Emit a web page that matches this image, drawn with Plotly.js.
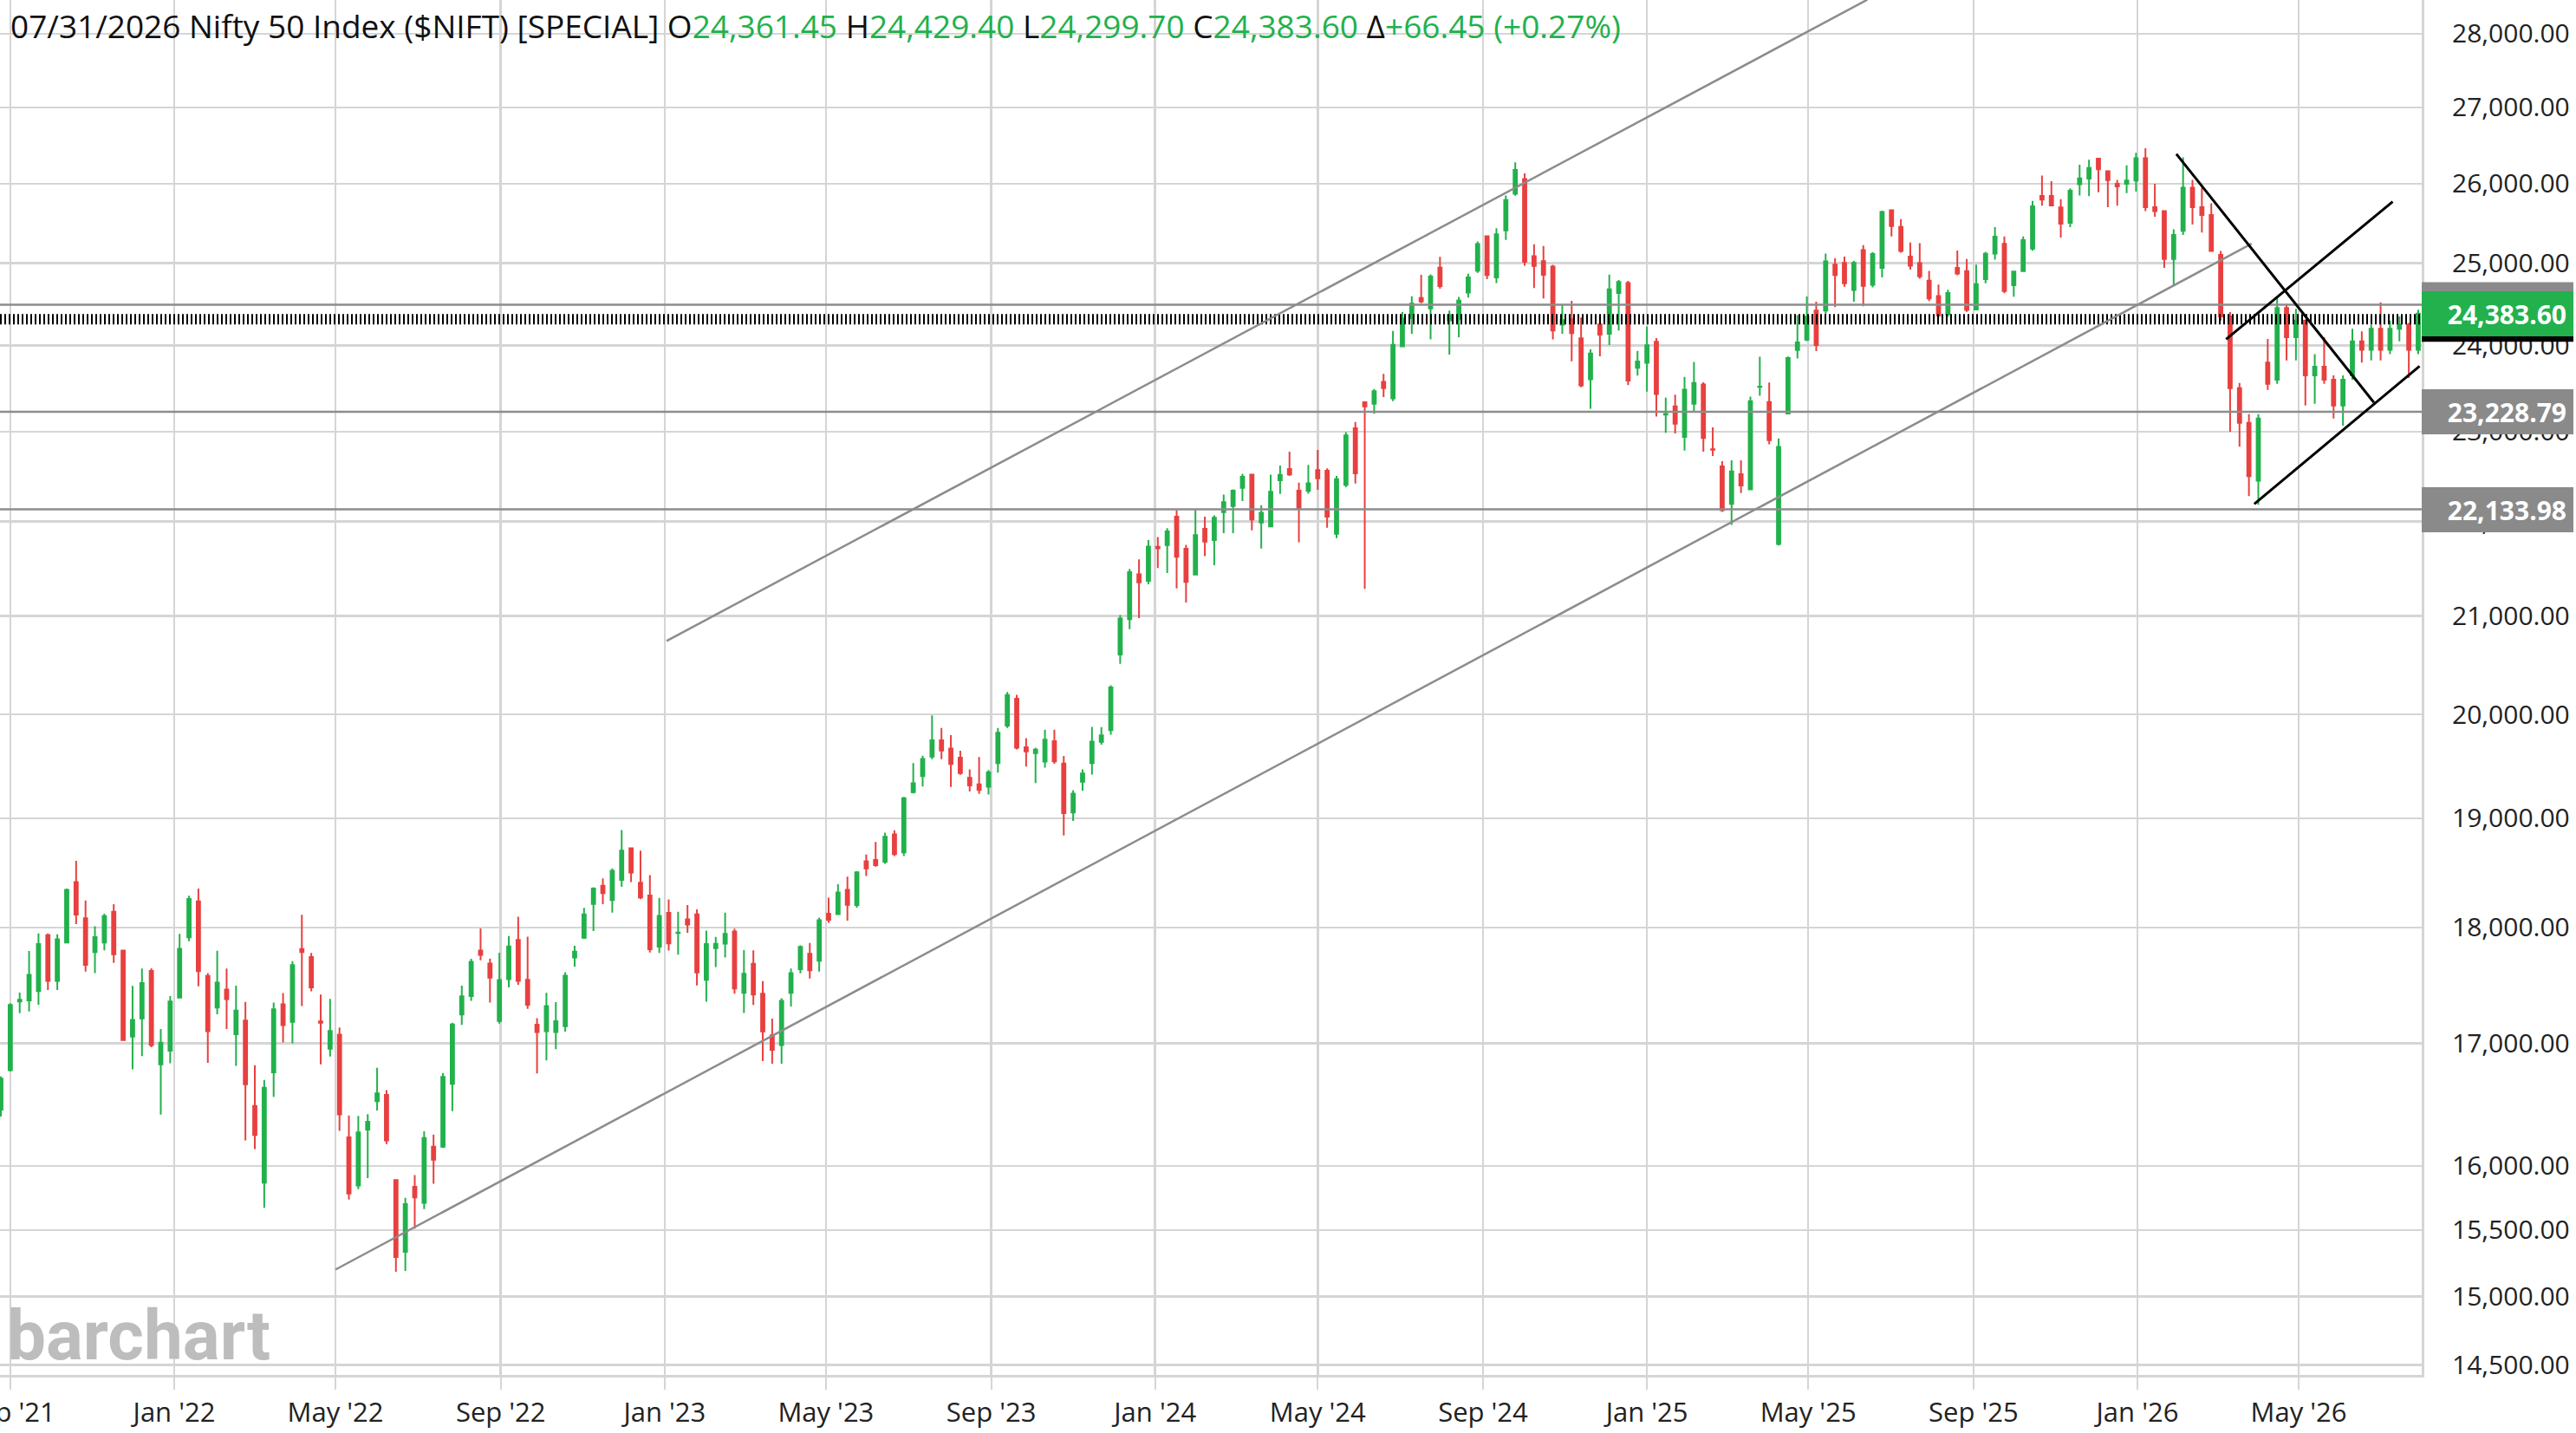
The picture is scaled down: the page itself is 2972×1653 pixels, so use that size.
<!DOCTYPE html>
<html><head><meta charset="utf-8">
<script src="https://cdn.plot.ly/plotly-3.0.1.min.js"></script>
<style>html,body{margin:0;padding:0;background:#fff;}#chart{width:2972px;height:1653px;}</style>
</head><body><div id="chart"></div>
<script>
// Weekly candles (each week centred on its Wednesday), first week starts here
const firstWeek = '2021-08-25';

const open = [
16450,16775,17354,17364,17443,17932,17532,17867,18410,18083,17783,17867,18141,17796,17055,17210,17619,16824,16937,
17387,17913,18235,17575,17302,17456,17076,17192,16481,15867,16757,17329,17181,17810,17740,17183,16954,17071,16227,15845,
16290,16520,16570,15887,15334,15835,15710,16152,16152,16662,17243,17401,17797,17682,17188,17546,17890,17540,17157,17102,
17094,17144,17736,17910,18211,18376,18246,18430,18719,18403,18288,17831,
18131,17952,18074,18118,17541,17818,17858,17965,17428,17681,17421,17066,16984,17428,17634,17767,17707,18124,18120,18339,
18201,18600,18612,18595,18848,18682,19246,19400,19588,19745,19666,19576,19383,19320,19298,19525,19890,20155,19678,19622,
19539,19737,19521,19053,19345,19525,19731,19845,20601,20965,21434,21365,
21727,21747,22053,21706,21433,21921,21800,22103,22170,22371,22517,21990,21947,22455,22579,22339,22336,22568,22561,21867,
22404,23039,23337,23319,23573,23382,23992,24329,24572,24445,24943,24302,24320,24637,24906,25333,24823,25406,25872,26061,
25085,25023,24956,24251,24315,24087,23605,24253,24141,24633,24753,23738,23796,
24045,23196,23290,22940,23319,23543,22800,22609,22194,22522,22354,23515,23341,21758,23207,23949,24070,24420,24420,24980,
25001,24669,25160,24733,24939,25661,25450,25079,25000,24783,24596,24371,24939,24900,24432,24802,25118,25239,24728,24899,
25180,25843,25843,25696,25503,25992,26065,26325,26160,26000,26000,26040,
26330,25700,25650,25050,25400,25950,25700,25600,25100,24350,23500,23100,22450,23800,23600,24450,24100,24300,23650,23750,
23600,23300,23650,24050,23950,24200,23950,24200,24250,23950
];
const high = [
16722,17340,17430,17792,17947,17948,17941,18350,18604,18242,18012,18123,18210,17805,17489,17639,17640,17119,17400,
17944,18286,18351,17599,17794,17639,17490,17351,16816,16694,17344,17427,17704,18114,17775,17413,17377,17133,16403,16400,
16414,16794,16610,15887,15749,15927,16275,16249,16752,17172,17490,17724,17992,17726,17777,17925,18096,17919,17211,17428,
17348,17607,17838,18176,18362,18443,18534,18888,18728,18697,18473,18265,
18252,18141,18201,18162,17972,17917,18134,17990,17800,17799,17529,17207,17381,17638,17842,17863,18089,18267,18389,18458,
18508,18662,18777,18864,18887,19201,19524,19595,19991,19867,19796,19645,19465,19584,19458,19867,20222,20195,19766,19674,
19849,19849,19593,19265,19464,19876,19875,20291,21006,21492,21593,21801,
21834,21928,22124,21750,22127,22053,22069,22297,22353,22526,22526,22180,22516,22619,22775,22427,22625,22794,22588,22502,
22994,23111,23339,23490,23667,24174,24401,24592,24854,24861,25078,24419,24586,24867,25268,25333,25433,25849,26277,26134,
25234,25212,24978,24498,24537,24336,23956,24354,24857,24792,24781,23938,24226,
24089,23391,23426,23632,23807,23568,23049,22668,22676,22677,23403,23869,23565,22923,23872,24365,24590,24526,25116,25062,
25080,25029,25222,25137,25655,25669,25548,25255,25247,24902,24734,24673,25154,25049,24980,25139,25449,25331,24904,25330,
25781,26104,26033,25803,25940,26246,26310,26326,26160,26050,26236,26400,
26460,26000,25660,25420,26340,26050,25950,25750,25150,24400,23560,23200,23200,24080,24580,24500,24440,24300,23900,24100,
23650,23650,24200,24170,24250,24520,24300,24350,24270,24429.4
];
const low = [
16395,16764,17254,17269,17327,17452,17452,17865,18030,17613,17600,17799,17688,17026,16782,16891,16966,16410,16833,
17383,17879,17485,16836,17244,17119,16810,16203,16133,15671,16555,17007,16998,17315,17442,16824,16889,16278,15735,15817,
15903,16444,16172,15183,15191,15511,15661,15858,16142,16438,17154,17359,17710,17345,17166,17476,17497,17291,16747,16855,
16950,17098,17655,17899,17969,18209,18133,18365,18410,18255,17779,17775,
17796,17761,17954,17493,17353,17652,17735,17421,17256,17324,16851,16829,16828,17312,17598,17553,17613,18042,18120,18061,
18178,18464,18550,18575,18647,18647,19234,19300,19563,19563,19296,19412,19253,19229,19223,19432,19866,19657,19492,19333,
19480,19518,18838,18973,19259,19414,19704,19801,20507,20862,20976,21330,
21500,21448,21285,21137,21429,21629,21530,21875,21875,22224,21905,21710,21947,22303,22503,21777,22306,22348,21933,21821,
22377,22418,21281,23206,23398,23350,23992,24141,24508,24074,24686,23893,24099,24578,24880,24801,24753,25286,25847,24967,
24694,24567,24073,24140,23816,23510,23263,23873,24008,24180,23537,23647,23460,
23172,22987,22981,22786,23222,22774,22725,22105,21964,22314,22353,23412,22857,21743,23207,23847,24054,23936,24378,24462,
24708,24526,24473,24700,24824,25331,25129,24918,24806,24535,24337,24347,24850,24404,24432,24751,25042,24629,24587,24890,
25152,25718,25711,25318,25449,25850,25840,25890,25700,25720,25880,25900,
25650,25580,24940,24720,25350,25480,25380,25140,24300,23000,22830,22280,22185,23480,23550,23825,23825,23300,23320,23550,
23150,23070,23600,23800,23825,23825,23900,24050,23620,23900
];
const close = [
16705,17324,17369,17585,17853,17532,17895,18339,18115,17672,17916,18103,17765,17026,17197,17512,16985,17004,17354,
17812,18256,17617,17102,17516,17374,17276,16658,16246,16630,17287,17153,17670,17784,17476,17172,17103,16412,15782,16266,
16353,16584,16202,15294,15699,15752,16221,16049,16719,17158,17398,17698,17758,17559,17539,17833,17531,17327,17094,17315,
17186,17576,17787,18117,18350,18308,18513,18697,18497,18270,17807,18105,
17860,17956,18027,17604,17854,17856,17944,17466,17594,17413,17100,16945,17360,17600,17828,17624,18065,18069,18315,18203,
18499,18534,18563,18826,18665,19189,19332,19565,19745,19646,19517,19428,19310,19266,19435,19820,20192,19674,19638,19654,
19751,19542,19047,19231,19425,19732,19795,20268,20970,21457,21349,21731,
21711,21894,21622,21353,21854,21783,22041,22213,22339,22494,22023,22097,22327,22514,22519,22147,22420,22476,22055,22466,
22957,22531,23290,23466,23501,24010,24323,24502,24530,24834,24718,24367,24541,24823,25235,24852,25357,25791,26179,25014,
24964,24854,24181,24304,24148,23533,23907,24131,24678,24768,23588,23813,24005,
23432,23203,23092,23482,23560,22929,22796,22125,22553,22397,23350,23519,22904,22829,23852,24039,24347,24008,25020,24853,
24751,25003,24719,25112,25638,25461,25150,24968,24837,24565,24363,24631,24870,24427,24741,25114,25327,24655,24894,25285,
25710,25795,25722,25492,25910,26068,26203,26186,26047,25966,26042,26330,
25700,25650,25050,25350,25950,25700,25600,25150,24350,23500,23100,22500,23150,23550,24450,24100,24300,23650,23750,23600,
23300,23600,24050,23950,24200,23950,24200,24250,23950,24383.6
];

// y-axis tick values
const yTicks = [14500,15000,15500,16000,17000,18000,19000,20000,21000,22000,23000,24000,25000,26000,27000,28000];

// horizontal price levels
const grayLevels = [24490, 23228.79, 22133.98];
const dashedLevel = 24314;
const lastPrice = 24383.60;
const labelLevels = [23228.79, 22133.98];

// drawn trend lines (start/end dates and prices)
const trendX0 = ['2022-05-01','2023-01-02 10:00','2026-01-30','2026-03-08','2026-03-29'];
const trendY0 = [15200, 20740, 26385, 24075, 22193];
const trendX1 = ['2026-03-27','2025-06-14','2026-06-26','2026-07-10','2026-07-30'];
const trendY1 = [25239, 28475, 23335, 25770, 23758];
const trendStyle = ['gray','gray','black','black','black'];

// header values
const header = {date:'07/31/2026', name:'Nifty 50 Index ($NIFT) [SPECIAL]', o:'24,361.45', h:'24,429.40', l:'24,299.70', c:'24,383.60', chg:'+66.45 (+0.27%)'};

const GREEN = '#22b14c', RED = '#e8403f', GRID = '#d5d5d5', LEVEL = '#8c8c8c';

const dates = [];
const t0 = Date.parse(firstWeek + 'T00:00:00Z');
for (let i = 0; i < close.length; i++) dates.push(new Date(t0 + i * 7 * 864e5).toISOString().slice(0, 10));

const trace = {
  type: 'candlestick', x: dates, open: open, high: high, low: low, close: close,
  increasing: {line: {color: GREEN, width: 2}, fillcolor: GREEN},
  decreasing: {line: {color: RED, width: 2}, fillcolor: RED},
  whiskerwidth: 0, hoverinfo: 'skip', showlegend: false
};

const shapes = [];
const boxH = Math.pow(10, 26 / 5380);
const boxX1 = 1 + 175 / 2794;
// hidden label boxes behind the last-price label
shapes.push({type:'rect', xref:'paper', yref:'y', x0:1, x1:boxX1, y0:grayLevels[0]/boxH, y1:grayLevels[0]*boxH, fillcolor:'#8a8a8a', line:{width:0}, layer:'above'});
shapes.push({type:'rect', xref:'paper', yref:'y', x0:1, x1:boxX1, y0:dashedLevel/boxH, y1:dashedLevel*boxH, fillcolor:'#000000', line:{width:0}, layer:'above'});
grayLevels.forEach(v => shapes.push({type:'line', xref:'paper', yref:'y', x0:0, x1:1, y0:v, y1:v, line:{color:LEVEL, width:2.5}, layer:'above'}));
shapes.push({type:'line', xref:'paper', yref:'y', x0:0, x1:1, y0:dashedLevel, y1:dashedLevel, line:{color:'#000', width:12, dash:'2px,3px'}, layer:'above'});
for (let i = 0; i < trendX0.length; i++) {
  const g = trendStyle[i] === 'gray';
  shapes.push({type:'line', xref:'x', yref:'y', x0:trendX0[i], y0:trendY0[i], x1:trendX1[i], y1:trendY1[i],
    line:{color: g ? LEVEL : '#000', width: g ? 2.5 : 3}, layer:'above'});
}

const annotations = [];
labelLevels.forEach(v => annotations.push({
  xref:'paper', x:1, xanchor:'left', yref:'y', y:Math.log10(v), yanchor:'middle', showarrow:false,
  text:'<b>' + v.toLocaleString('en-US',{minimumFractionDigits:2, maximumFractionDigits:2}) + '</b>',
  bgcolor:'#8a8a8a', font:{color:'#fff', size:30, family:'Open Sans'}, width:159, height:36, borderpad:8, borderwidth:0, align:'right'
}));
annotations.push({
  xref:'paper', x:1, xanchor:'left', yref:'y', y:Math.log10(lastPrice), yanchor:'middle', showarrow:false,
  text:'<b>' + header.c + '</b>', bgcolor:GREEN, font:{color:'#fff', size:30, family:'Open Sans'},
  width:159, height:36, borderpad:8, borderwidth:0, align:'right'
});
annotations.push({
  xref:'paper', x:0, xanchor:'left', xshift:6, yref:'paper', y:0, yanchor:'bottom', yshift:-4, showarrow:false,
  text:'<b>barchart</b>', font:{family:'Roboto', size:80, color:'#bdbdbd'}
});

const gs = s => '<span style="color:' + GREEN + '">' + s + '</span>';
const titleText = header.date + ' ' + header.name + ' O' + gs(header.o) + ' H' + gs(header.h) + ' L' + gs(header.l) +
  ' C' + gs(header.c) + ' Δ' + gs(header.chg);

const layout = {
  width: 2972, height: 1653,
  margin: {l:0, r:178, t:0, b:67, pad:0},
  paper_bgcolor:'#fff', plot_bgcolor:'#fff',
  font: {family:'Open Sans', size:30, color:'#222'},
  boxgap: 0.5,
  title: {text: titleText, x: 12/2972, xref:'container', xanchor:'left', y: 1 - 31/1653, yref:'container', yanchor:'middle',
    font:{family:'Open Sans', size:37, color:'#111'}},
  xaxis: {type:'date', range:['2021-08-24 08:24','2026-07-31 14:24'], tick0:'2021-01-01', dtick:'M4', tickformat:"%b '%y",
    showgrid:true, gridcolor:GRID, gridwidth:2.5, ticks:'outside', ticklen:14, tickwidth:2, tickcolor:GRID,
    showline:true, linecolor:GRID, linewidth:3, zeroline:false, rangeslider:{visible:false}, ticklabeloverflow:'allow',
    tickfont:{size:31, color:'#222'}, fixedrange:true},
  yaxis: {type:'log', side:'right', range:[4.15923, 4.45441], tickvals: yTicks, tickformat:',.2f',
    showgrid:true, gridcolor:GRID, gridwidth:2.5, ticks:'', ticklabelstandoff:26, showline:true, linecolor:GRID, linewidth:3,
    zeroline:false, tickfont:{size:30, color:'#222'}, fixedrange:true},
  shapes: shapes, annotations: annotations, showlegend:false
};

Plotly.newPlot('chart', [trace], layout, {staticPlot:true, displayModeBar:false});
</script>
</body></html>
